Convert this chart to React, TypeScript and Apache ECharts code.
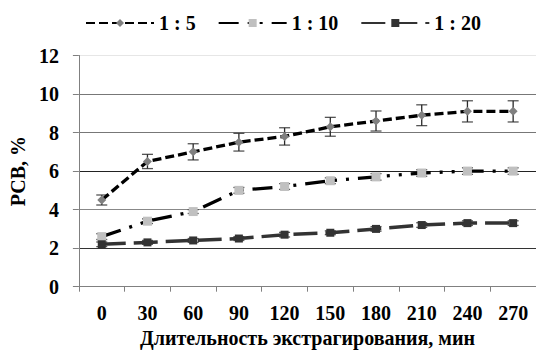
import React, { useEffect, useRef } from "react";
import * as echarts from "echarts";

const categories = ["0", "30", "60", "90", "120", "150", "180", "210", "240", "270"];
const seriesNames = ["1 : 5", "1 : 10", "1 : 20"];
const values5 = [4.5, 6.5, 7.0, 7.5, 7.8, 8.3, 8.6, 8.9, 9.1, 9.1];
const values10 = [2.6, 3.4, 3.9, 5.0, 5.2, 5.5, 5.7, 5.9, 6.0, 6.0];
const values20 = [2.2, 2.3, 2.4, 2.5, 2.7, 2.8, 3.0, 3.2, 3.3, 3.3];
const err5 = [0.26, 0.37, 0.42, 0.46, 0.45, 0.49, 0.52, 0.54, 0.55, 0.55];
const err10 = [0.15, 0.12, 0.1, 0.15, 0.15, 0.15, 0.17, 0.17, 0.17, 0.17];
const err20 = [0.12, 0.1, 0.1, 0.1, 0.12, 0.1, 0.12, 0.12, 0.12, 0.12];
const yTicks = { min: 0, max: 12, interval: 2 };

function tb(extra: any = {}) {
  return { fontFamily: "Liberation Serif", fontWeight: "bold", fontSize: 20, color: "#000", ...extra };
}

// error bars as candlestick-free bar stacks: a transparent base + a thin whisker body
function errBars(vals: number[], errs: number[], stack: string) {
  return [
    {
      type: "bar",
      stack,
      silent: true,
      barWidth: 1.3,
      barGap: "-100%",
      itemStyle: { color: "transparent" },
      data: vals.map((v, i) => v - errs[i]),
      z: 1,
    },
    {
      type: "bar",
      stack,
      silent: true,
      barWidth: 1.3,
      barGap: "-100%",
      itemStyle: { color: "#2a2a2a" },
      data: errs.map((e) => 2 * e),
      z: 1,
    },
  ];
}

function capMarks(vals: number[], errs: number[]) {
  return [
    {
      type: "scatter",
      silent: true,
      symbol: "rect",
      symbolSize: [11, 1.3],
      itemStyle: { color: "#2a2a2a" },
      data: vals.map((v, i) => v - errs[i]),
      z: 1,
    },
    {
      type: "scatter",
      silent: true,
      symbol: "rect",
      symbolSize: [11, 1.3],
      itemStyle: { color: "#2a2a2a" },
      data: vals.map((v, i) => v + errs[i]),
      z: 1,
    },
  ];
}

export default function App() {
  const ref = useRef<HTMLDivElement>(null);
  useEffect(() => {
    document.body.style.margin = "0";
    const chart = echarts.init(ref.current!, null, { renderer: "svg" });
    chart.setOption({
      animation: false,
      grid: { left: 78, top: 55.5, bottom: 67.3, width: 463 },
      legend: {
        data: seriesNames,
        top: 8,
        left: 80,
        itemWidth: 68,
        itemHeight: 10,
        itemGap: 22,
        textStyle: tb(),
      },
      xAxis: {
        type: "category",
        data: categories,
        boundaryGap: true,
        name: "Длительность экстрагирования, мин",
        nameLocation: "middle",
        nameGap: 36,
        nameTextStyle: tb(),
        axisLine: { lineStyle: { color: "#808080", width: 1 } },
        axisTick: { show: true, length: 5, lineStyle: { color: "#808080" } },
        axisLabel: tb({ margin: 16, interval: 0 }),
      },
      yAxis: {
        type: "value",
        min: yTicks.min,
        max: yTicks.max,
        interval: yTicks.interval,
        name: "РСВ, %",
        nameLocation: "middle",
        nameGap: 40,
        nameRotate: 90,
        nameTextStyle: tb(),
        axisLine: { show: true, lineStyle: { color: "#808080", width: 1 } },
        axisTick: { show: true, length: 6, lineStyle: { color: "#808080" } },
        axisLabel: tb({ margin: 20 }),
        splitLine: {
          lineStyle: {
            color: ["#808080", "#333", "#888", "#222", "#777", "#777", "#e6e6e6"],
            width: 1,
          },
        },
      },
      series: [
        ...errBars(values5, err5, "e5"),
        ...errBars(values10, err10, "e10"),
        ...errBars(values20, err20, "e20"),
        ...capMarks(values5, err5),
        ...capMarks(values10, err10),
        ...capMarks(values20, err20),
        {
          type: "line",
          name: seriesNames[0],
          data: values5,
          z: 3,
          symbol: "diamond",
          symbolSize: 9,
          itemStyle: { color: "#808080" },
          lineStyle: { color: "#000", width: 3.3, type: [9, 4] },
        },
        {
          type: "line",
          name: seriesNames[1],
          data: values10,
          z: 3,
          symbol: "rect",
          symbolSize: 9,
          itemStyle: { color: "#c0c0c0" },
          lineStyle: { color: "#000", width: 3.3, type: [20, 9, 3, 9, 3, 9] },
        },
        {
          type: "line",
          name: seriesNames[2],
          data: values20,
          z: 3,
          symbol: "rect",
          symbolSize: 8,
          itemStyle: { color: "#333" },
          lineStyle: { color: "#333", width: 3.5, type: [24, 8] },
        },
      ],
    });
    return () => chart.dispose();
  }, []);
  return (
    <div
      ref={ref}
      style={{ position: "absolute", left: 0, top: 0, width: 536, height: 354 }}
    />
  );
}
